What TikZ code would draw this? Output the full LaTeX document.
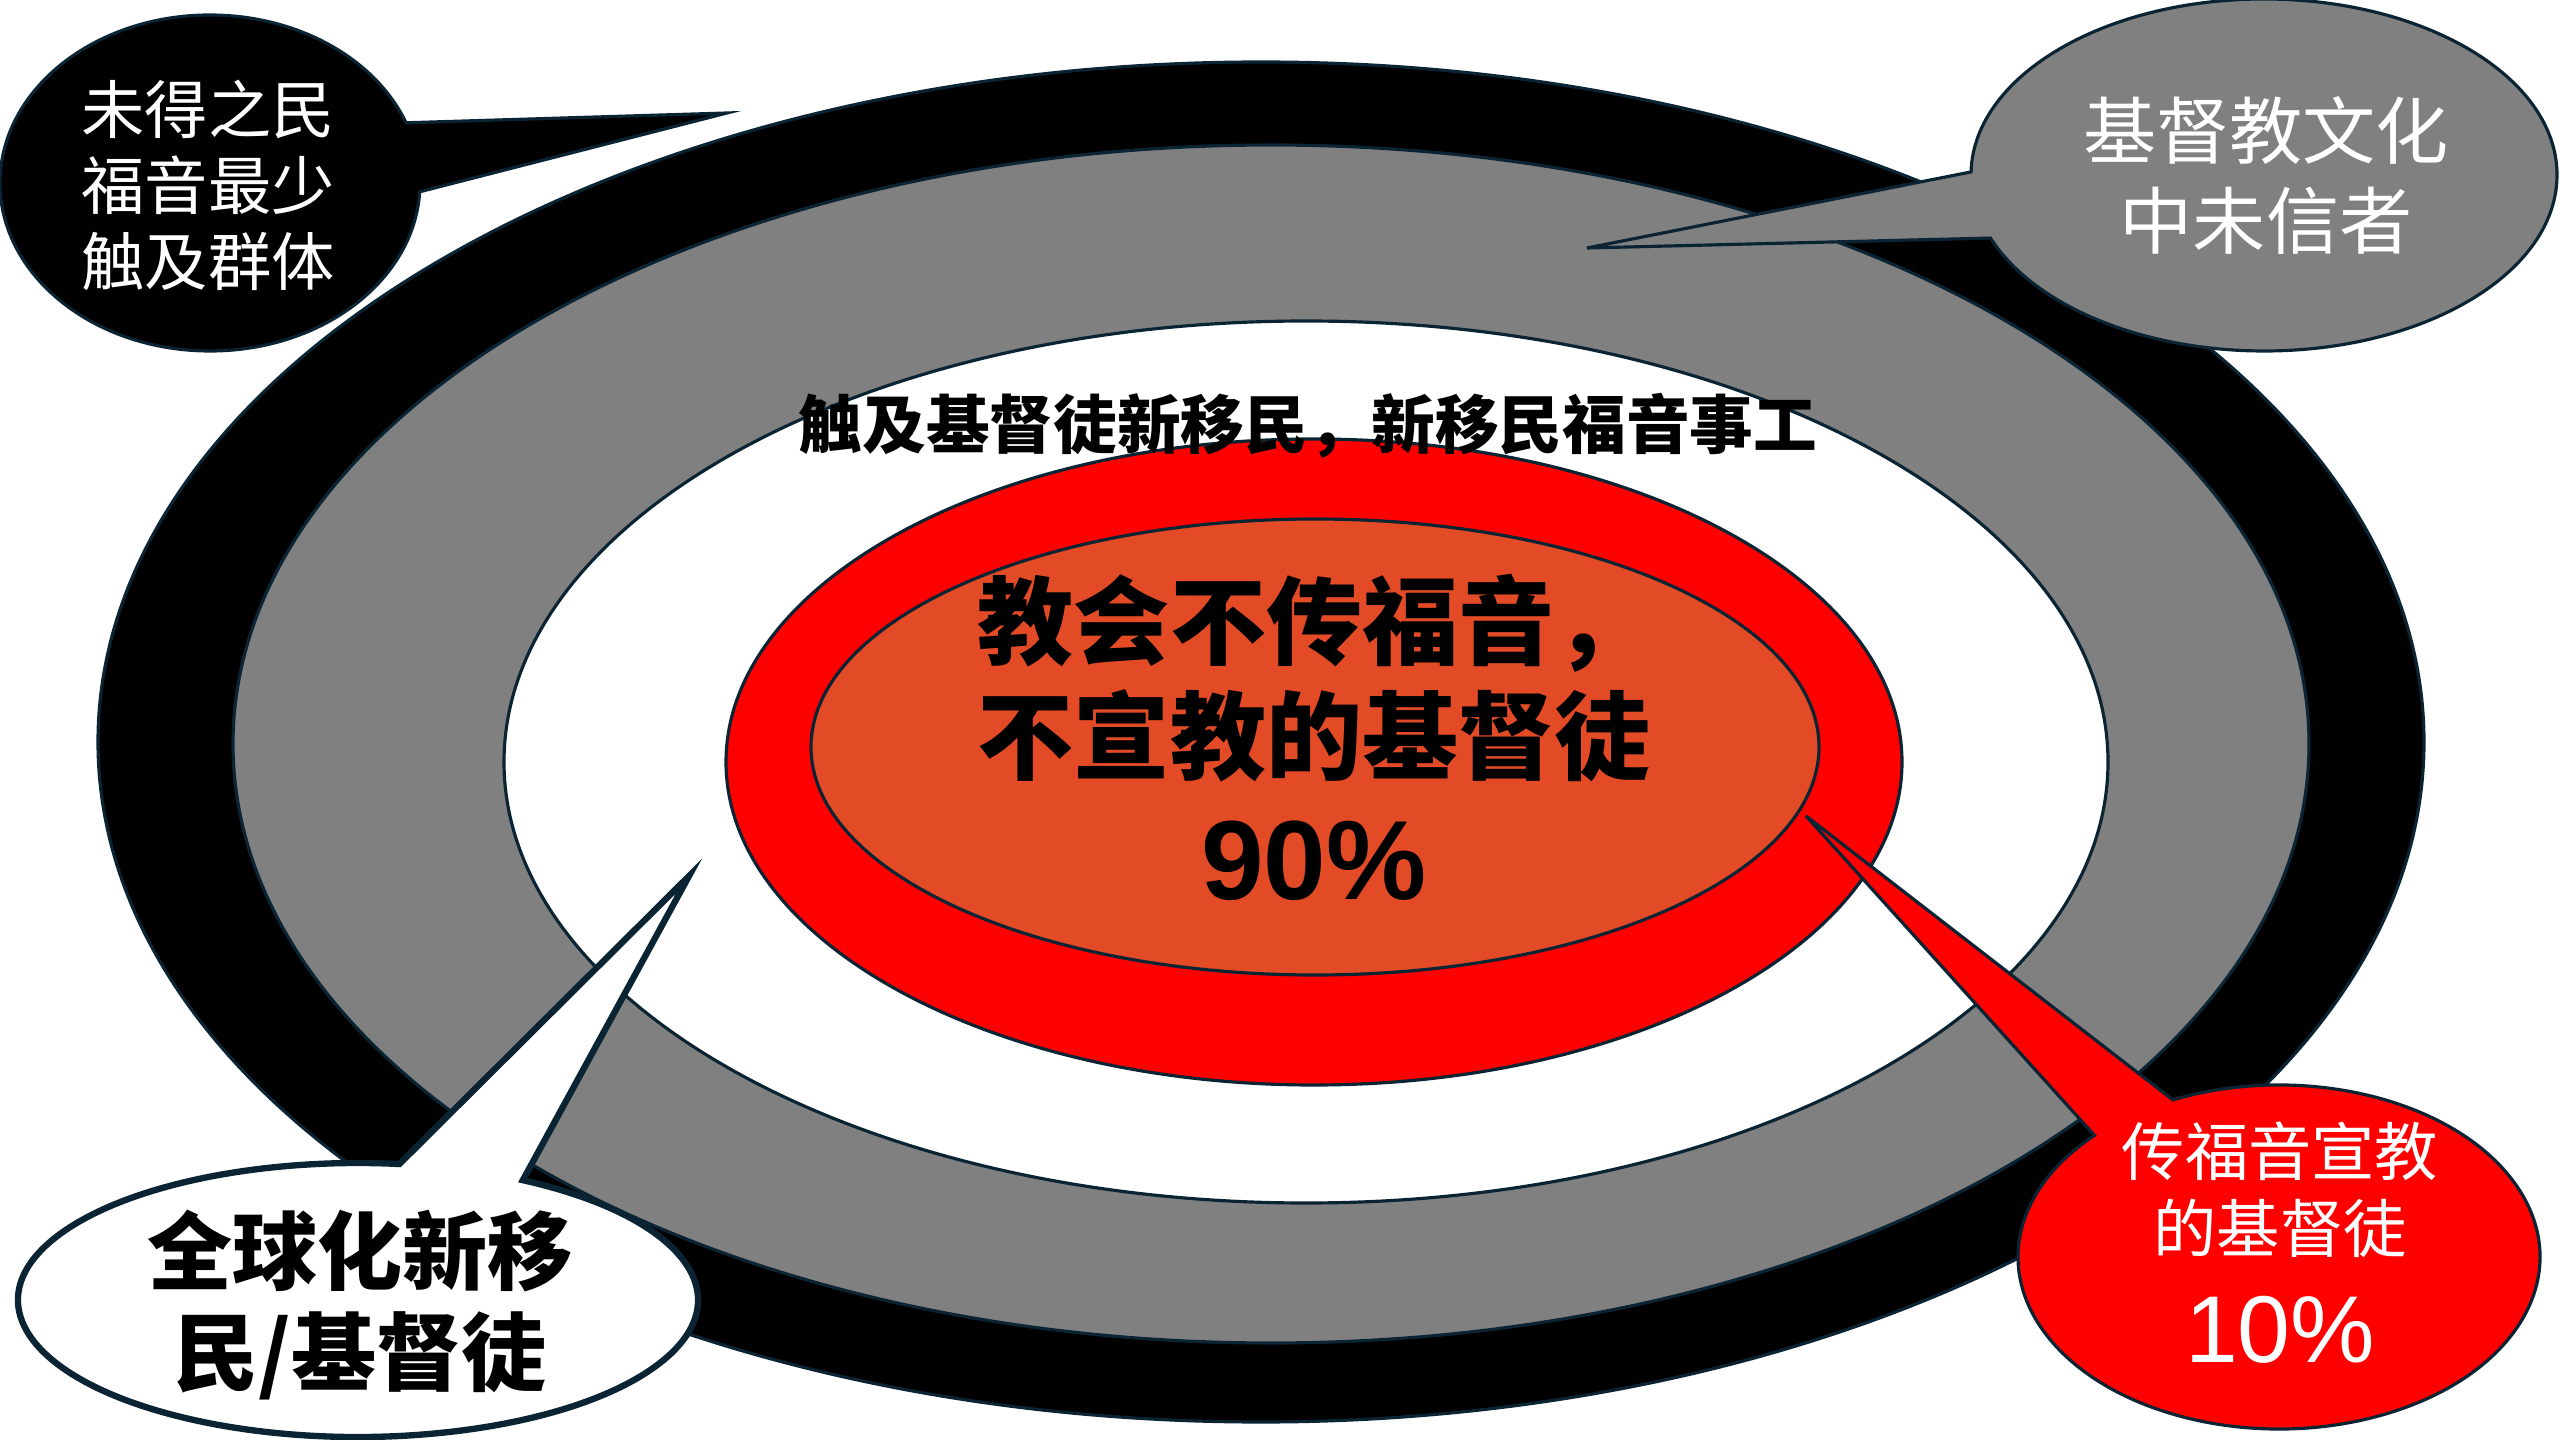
\documentclass[tikz,border=0pt]{standalone}
\usepackage{fontspec}
\newfontfamily\cjk{Noto Sans CJK SC}
\newfontfamily\arial{Liberation Sans}
\usetikzlibrary{calc}
\definecolor{vien}{RGB}{10,36,52}
\definecolor{camdo}{RGB}{227,75,38}

\begin{document}
\begin{tikzpicture}[x=0.01cm, y=-0.01cm,
    vong/.style={draw=vien, line width=0.9pt},
    chu/.style={align=center, inner sep=0pt}]
% Khung hình
\useasboundingbox (0,0) rectangle (2560,1440);

% Tâm các elip
\coordinate (K) at (1261,742);
\coordinate (X) at (1271,744);
\coordinate (T) at (1306,762);
\coordinate (D) at (1314,762);
\coordinate (C) at (1315,747);

% Các vòng elip lồng nhau
\draw[vong, fill=black] (K) ellipse [x radius=1163, y radius=680];
\draw[vong, fill=gray] (X) ellipse [x radius=1038, y radius=599];
\draw[vong, fill=white] (T) ellipse [x radius=802, y radius=441];
\draw[vong, fill=red] (D) ellipse [x radius=588, y radius=323];
\draw[vong, fill=camdo] (C) ellipse [x radius=504, y radius=228];

% Tâm và mũi nhọn của các bóng chú thích
\coordinate (B1) at (210,183);  \coordinate (M1) at (727,113);
\coordinate (B2) at (2264,175); \coordinate (M2) at (1587,248);
\coordinate (B3) at (358,1300); \coordinate (M3) at (689,876);
\coordinate (B4) at (2279,1257); \coordinate (M4) at (1806,816);

% Vẽ các bóng chú thích
\draw[vong, fill=black] (M1) -- ($(B1)+(3:210 and 168)$)
  arc[start angle=3, end angle=339, x radius=210, y radius=168] -- cycle;
\draw[vong, fill=gray] (M2) -- ($(B2)+(181:293 and 176)$)
  arc[start angle=181, end angle=519, x radius=293, y radius=176] -- cycle;
\draw[vong, line width=1.8pt, fill=white] (M3) -- ($(B3)+(299:340 and 137)$)
  arc[start angle=299, end angle=637, x radius=340, y radius=137] -- cycle;
\draw[vong, fill=red] (M4) -- ($(B4)+(246:261 and 172)$)
  arc[start angle=246, end angle=585, x radius=261, y radius=172] -- cycle;

% Chữ
\node[chu, font=\cjk\bfseries\fontsize{18.1}{22}\selectfont] (vanhan) at (1308,426) {触及基督徒新移民，新移民福音事工};
\node[chu, font=\cjk\bfseries\fontsize{27.3}{32.7}\selectfont] (giua) at (1314,678) {教会不传福音，\\不宣教的基督徒};
\node[chu, font=\arial\bfseries\fontsize{32}{38}\selectfont] (chinmuoi) at (1314,861) {90\%};
\node[chu, text=white, font=\cjk\fontsize{18}{21.6}\selectfont] (t1) at (208,185) {未得之民\\福音最少\\触及群体};
\node[chu, text=white, font=\cjk\fontsize{20.8}{25.6}\selectfont] (t2) at (2266,176) {基督教文化\\中未信者};
\node[chu, font=\cjk\bfseries\fontsize{24.2}{28.7}\selectfont] (t3) at (360,1305) {全球化新移\\民/基督徒};
\node[chu, text=white, font=\cjk\fontsize{18}{21.9}\selectfont] (t4) at (2280,1190) {传福音宣教\\的基督徒};
\node[chu, text=white, font=\arial\fontsize{27}{32}\selectfont] (muoi) at (2280,1330) {10\%};
\end{tikzpicture}
\end{document}
